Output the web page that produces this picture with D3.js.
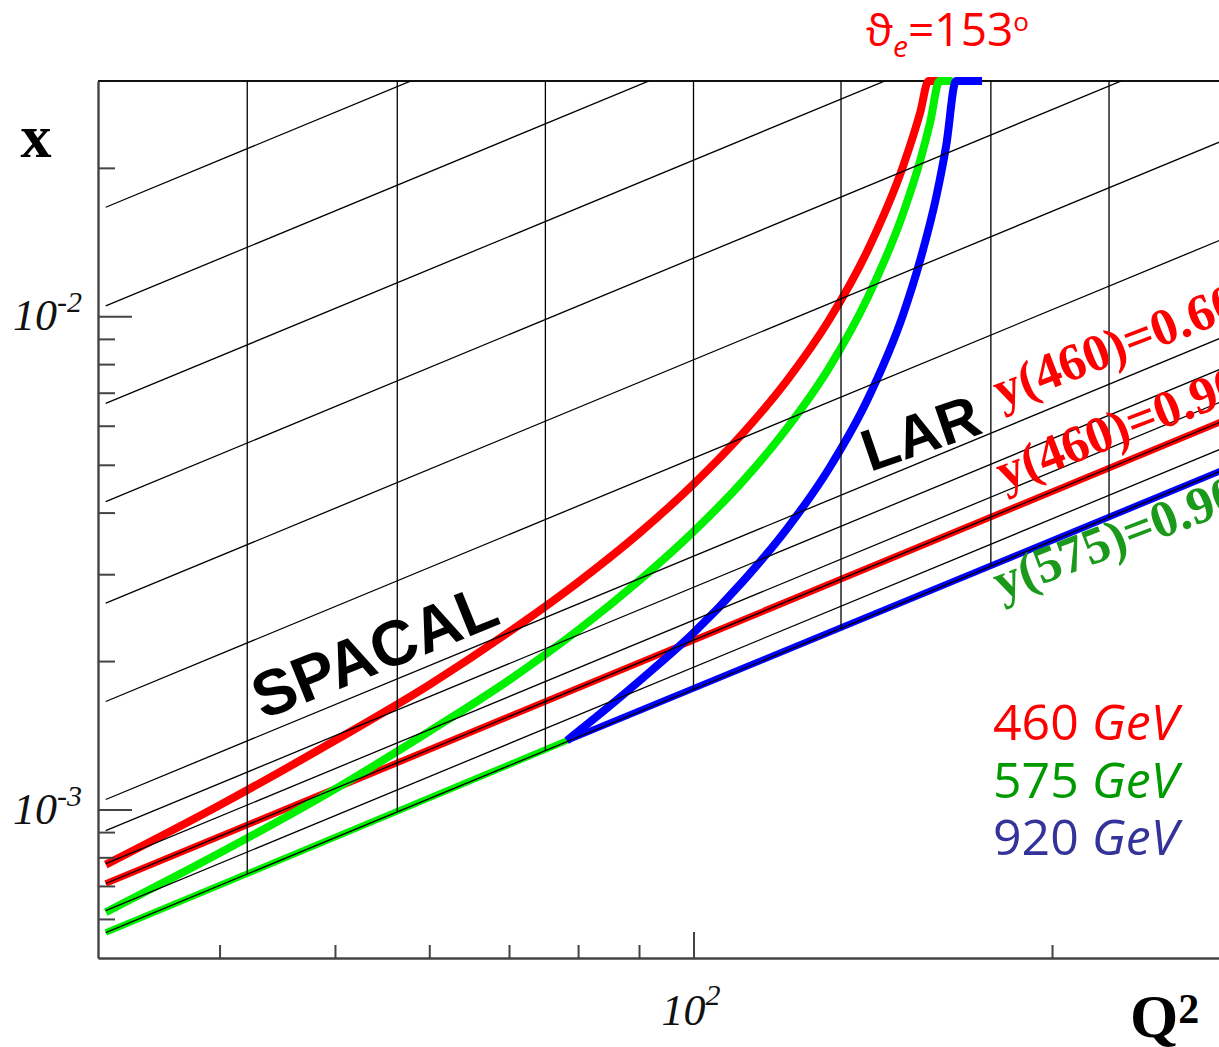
<!DOCTYPE html>
<html>
<head>
<meta charset="utf-8">
<script src="https://cdn.jsdelivr.net/npm/d3@7"></script>
<style>
  body { margin: 0; background: #fff; }
  svg { display: block; }
</style>
</head>
<body>
<svg id="chart" width="1219" height="1047"></svg>
<script>
// ---- axis ranges and ticks -------------------------------------------
const q2Domain = [31.6228, 316.228];
const xDomain = [5e-4, 0.03];
const q2MajorTicks = [100];
const q2MinorTicks = [40, 50, 60, 70, 80, 90, 200];
const xMajorTicks = [1e-3, 1e-2];
const xMinorTicks = [6e-4, 7e-4, 8e-4, 9e-4, 2e-3, 3e-3, 4e-3, 5e-3, 6e-3, 7e-3, 8e-3, 9e-3, 2e-2];
const xTickLabels = [
  { value: 1e-2, base: "10", exp: "-2" },
  { value: 1e-3, base: "10", exp: "-3" }
];
const q2TickLabels = [{ value: 100, base: "10", exp: "2" }];

// ---- thin lines of constant y: [Q2, x] at both ends --------------------
const yLines = [
  [[32.1, 1.664e-2], [316.2, 1.637e-1]],
  [[32.1, 1.050e-2], [316.2, 1.034e-1]],
  [[32.1, 6.66e-3],  [316.2, 6.55e-2]],
  [[32.1, 4.21e-3],  [316.2, 4.15e-2]],
  [[32.1, 2.62e-3],  [316.2, 2.58e-2]],
  [[32.1, 1.656e-3], [316.2, 1.630e-2]],
  [[32.1, 1.048e-3], [316.2, 1.031e-2]],
  [[32.1, 9.06e-4],  [316.2, 8.92e-3]],
  [[32.1, 7.77e-4],  [316.2, 7.65e-3]],
  [[32.1, 7.08e-4],  [316.2, 6.97e-3]],
  [[32.1, 6.24e-4],  [316.2, 6.14e-3]],
  [[32.1, 5.63e-4],  [316.2, 5.54e-3]]
];

// ---- vertical Q2 lines: Q2 and the x where each one stops -------------
const q2Grid = [42.2, 56.4, 75.1, 100, 133, 177.7, 223.3];
const q2GridBottom = [7.41e-4, 9.90e-4, 1.315e-3, 1.751e-3, 2.33e-3, 3.11e-3, 3.91e-3];
const gridTop = 0.03;

// ---- electron angle 153 deg, one curve per proton energy [Q2, x] ------
const theta460 = [[32.1, 7.73e-4], [40, 1.02e-3], [50, 1.38e-3], [60, 1.79e-3], [70, 2.29e-3],
  [80, 2.89e-3], [90, 3.63e-3], [100, 4.57e-3], [110, 5.79e-3], [120, 7.45e-3], [130, 9.84e-3],
  [140, 1.36e-2], [150, 2.02e-2], [155, 2.59e-2], [157.5, 3.0e-2], [161, 3.0e-2]];
const theta575 = [[32.1, 6.19e-4], [40, 8.16e-4], [50, 1.10e-3], [60, 1.44e-3], [70, 1.83e-3],
  [80, 2.31e-3], [90, 2.91e-3], [100, 3.66e-3], [110, 4.63e-3], [120, 5.96e-3], [130, 7.87e-3],
  [140, 1.09e-2], [150, 1.62e-2], [155, 2.07e-2], [158, 2.47e-2], [160.9, 3.0e-2], [165, 3.0e-2]];
const theta920 = [[78.3, 1.38e-3], [85, 1.62e-3], [90, 1.82e-3], [100, 2.28e-3], [110, 2.90e-3],
  [120, 3.73e-3], [130, 4.92e-3], [140, 6.78e-3], [150, 1.01e-2], [155, 1.30e-2], [160, 1.76e-2],
  [163, 2.22e-2], [166.1, 3.0e-2], [174.7, 3.0e-2]];

// ---- y = 0.9 limits -------------------------------------------------
const yLimit460 = [[32.1, 7.08e-4], [316.2, 6.97e-3]];
const yLimit575 = [[32.1, 5.63e-4], [78.3, 1.38e-3]];
const yLimit920 = [[78.3, 1.38e-3], [316.2, 5.54e-3]];

// ---- legend -----------------------------------------------------------
const energies = ["460", "575", "920"];
const energyColors = ["#ff0000", "#009900", "#333399"];

// =======================================================================
const svg = d3.select("#chart");
const L = 98, R = 1289, T = 81, B = 958;
const x = d3.scaleLog().domain(q2Domain).range([L, R]);
const y = d3.scaleLog().domain(xDomain).range([B, T]);

const defs = svg.append("defs");
defs.append("clipPath").attr("id", "plotClip")
  .append("rect").attr("x", L).attr("y", T).attr("width", R - L).attr("height", B - T);
defs.append("filter").attr("id", "soft")
  .append("feGaussianBlur").attr("stdDeviation", 0.5);

// top edge of the frame
svg.append("line").attr("x1", L).attr("x2", R).attr("y1", T).attr("y2", T)
  .attr("stroke", "#111").attr("stroke-width", 2);

const smooth = d3.line().x(d => x(d[0])).y(d => y(d[1])).curve(d3.curveMonotoneX);
const straight = d3.line().x(d => x(d[0])).y(d => y(d[1]));

const red = "#ff0000", green = "#00f000", blue = "#0000ff";
const thick = svg.append("g").attr("fill", "none").attr("stroke-linecap", "butt")
  .attr("filter", "url(#soft)");
thick.append("path").attr("d", straight(yLimit460)).attr("stroke", red).attr("stroke-width", 6.5);
thick.append("path").attr("d", straight(yLimit575)).attr("stroke", green).attr("stroke-width", 6.5);
thick.append("path").attr("d", straight(yLimit920)).attr("stroke", blue).attr("stroke-width", 6.5);
thick.append("path").attr("d", smooth(theta460)).attr("stroke", red).attr("stroke-width", 8);
thick.append("path").attr("d", smooth(theta575)).attr("stroke", green).attr("stroke-width", 8);
thick.append("path").attr("d", smooth(theta920)).attr("stroke", blue).attr("stroke-width", 8);

// thin grid: lines of constant y and vertical Q2 lines
const thin = svg.append("g").attr("clip-path", "url(#plotClip)")
  .attr("stroke", "#000").attr("stroke-width", 1.3).attr("fill", "none");
thin.selectAll("path.yl").data(yLines).join("path").attr("class", "yl").attr("d", straight);
thin.selectAll("line.vg").data(q2Grid).join("line").attr("class", "vg")
  .attr("x1", d => x(d)).attr("x2", d => x(d))
  .attr("y1", y(gridTop)).attr("y2", (d, i) => y(q2GridBottom[i]));

// axes
const axisColor = "#444";
function styleAxis(g, keepDomain) {
  g.selectAll("line").attr("stroke", axisColor).attr("stroke-width", 2);
  g.selectAll("text").remove();
  if (keepDomain) g.select(".domain").attr("stroke", axisColor).attr("stroke-width", 2.4);
  else g.select(".domain").remove();
}
svg.append("g").attr("transform", `translate(${L},0)`)
  .call(d3.axisLeft(y).tickValues(xMajorTicks).tickSize(-34).tickSizeOuter(0).tickFormat(""))
  .call(g => styleAxis(g, true));
svg.append("g").attr("transform", `translate(${L},0)`)
  .call(d3.axisLeft(y).tickValues(xMinorTicks).tickSize(-17).tickSizeOuter(0).tickFormat(""))
  .call(g => styleAxis(g, false));
svg.append("g").attr("transform", `translate(0,${B})`)
  .call(d3.axisBottom(x).tickValues(q2MajorTicks).tickSize(-26).tickSizeOuter(0).tickFormat(""))
  .call(g => styleAxis(g, true));
svg.append("g").attr("transform", `translate(0,${B})`)
  .call(d3.axisBottom(x).tickValues(q2MinorTicks).tickSize(-13).tickSizeOuter(0).tickFormat(""))
  .call(g => styleAxis(g, false));

// tick labels with exponents
const serif = "'Liberation Serif', 'Times New Roman', serif";
xTickLabels.forEach(t => {
  const tx = svg.append("text").attr("x", 82).attr("y", y(t.value) + 14)
    .attr("text-anchor", "end").attr("font-family", serif).attr("font-style", "italic")
    .attr("fill", "#111");
  tx.append("tspan").attr("font-size", 44).text(t.base);
  tx.append("tspan").attr("font-size", 30).attr("dy", -18).text(t.exp);
});
q2TickLabels.forEach(t => {
  const tx = svg.append("text").attr("x", x(t.value) - 32).attr("y", 1025)
    .attr("font-family", serif).attr("font-style", "italic").attr("fill", "#111");
  tx.append("tspan").attr("font-size", 44).text(t.base);
  tx.append("tspan").attr("font-size", 30).attr("dy", -20).text(t.exp);
});

// axis titles
svg.append("text").attr("x", 36).attr("y", 157).attr("text-anchor", "middle")
  .attr("font-family", serif).attr("font-weight", "bold").attr("font-size", 62).text("x");
const qt = svg.append("text").attr("x", 1130).attr("y", 1037)
  .attr("font-family", serif).attr("font-weight", "bold");
qt.append("tspan").attr("font-size", 62).text("Q");
qt.append("tspan").attr("font-size", 42).attr("dy", -14).text("2");

// angle label
const sansR = "'Open Sans', 'DejaVu Sans', sans-serif";
const th = svg.append("text").attr("x", 866).attr("y", 46).attr("fill", "#ff0000")
  .attr("font-family", sansR);
th.append("tspan").attr("font-size", 44).text("\u03D1");
th.append("tspan").attr("font-size", 30).attr("font-style", "italic").attr("dy", 11).text("e");
th.append("tspan").attr("font-size", 46).attr("dy", -11).text("=153");
th.append("tspan").attr("font-size", 26).attr("dy", -15).text("o");

// detector regions
const sansB = "'Liberation Sans', Arial, sans-serif";
svg.append("text").attr("transform", "translate(263,720) rotate(-22)")
  .attr("font-family", sansB).attr("font-weight", "bold").attr("font-size", 64).text("SPACAL");
svg.append("text").attr("transform", "translate(870,472) rotate(-19)")
  .attr("font-family", sansB).attr("font-weight", "bold").attr("font-size", 59).text("LAR");

// y labels along the limit lines
const yLabels = [
  { text: "y(460)=0.60", x: 1001, y: 408, color: "#ff0000" },
  { text: "y(460)=0.90", x: 1004, y: 490, color: "#ff0000" },
  { text: "y(575)=0.90", x: 1001, y: 600, color: "#1a991a" }
];
yLabels.forEach(l => {
  svg.append("text").attr("transform", `translate(${l.x},${l.y}) rotate(-21)`)
    .attr("font-family", serif).attr("font-weight", "bold").attr("font-size", 52)
    .attr("fill", l.color).text(l.text);
});

// legend
energies.forEach((e, i) => {
  const t = svg.append("text").attr("x", 993).attr("y", 740 + i * 57.5)
    .attr("font-family", sansR).attr("font-size", 50).attr("fill", energyColors[i]);
  t.append("tspan").text(e + " ");
  t.append("tspan").attr("font-style", "italic").text("GeV");
});
</script>
</body>
</html>
